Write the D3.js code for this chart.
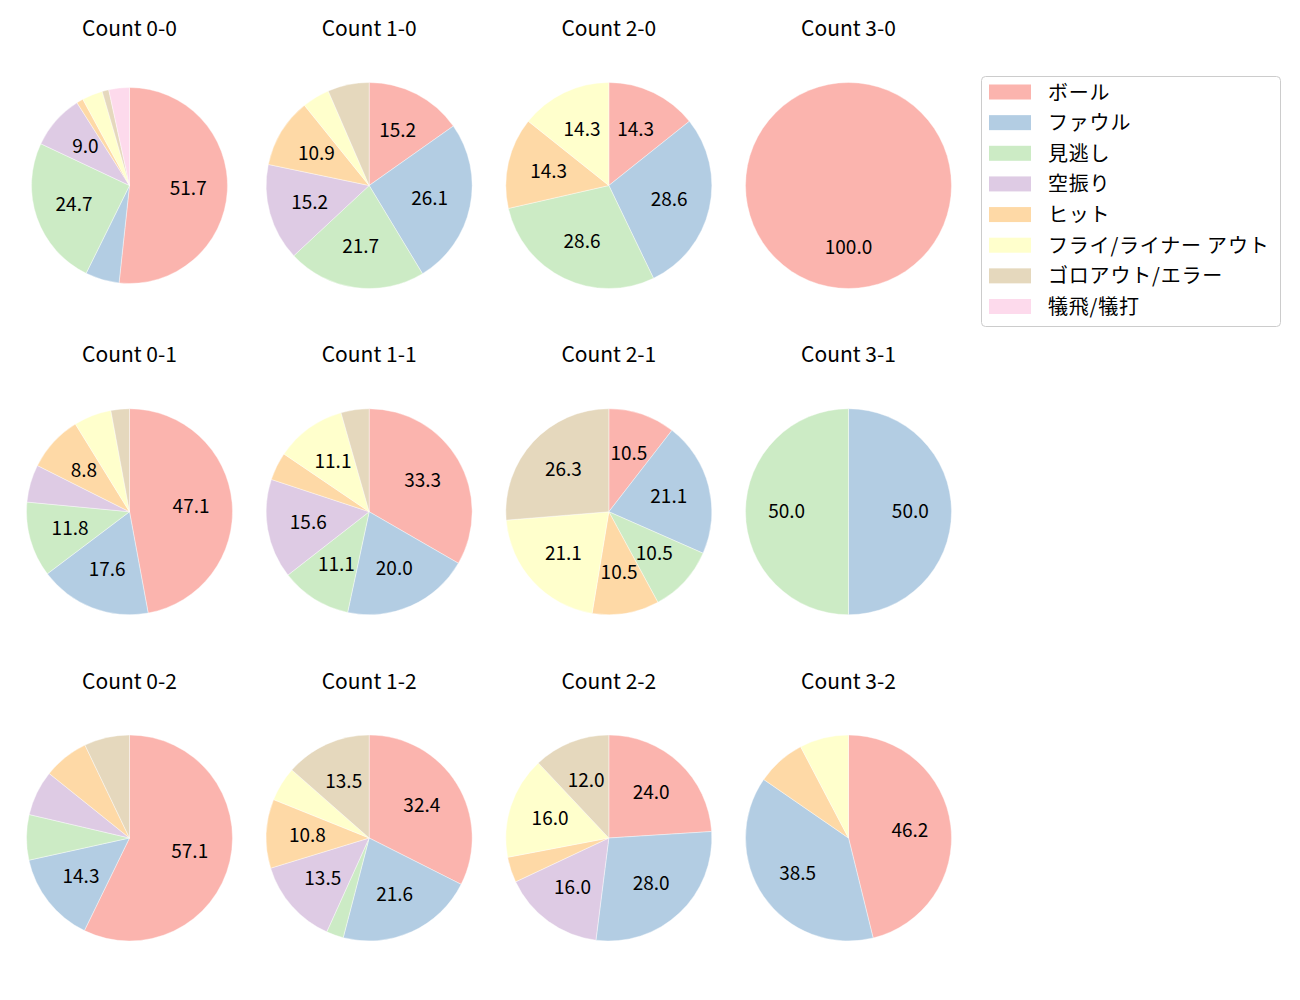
<!DOCTYPE html>
<html>
<head>
<meta charset="utf-8">
<script src="https://cdn.jsdelivr.net/npm/d3@7"></script>
<style>
  html, body { margin: 0; padding: 0; background: #ffffff; }
  svg { display: block; font-family: "Noto Sans CJK JP", "Noto Sans", sans-serif; }
</style>
</head>
<body>
<svg id="chart" width="1300" height="1000"></svg>
<script>
// ---- data ----
const categories = ["ボール", "ファウル", "見逃し", "空振り", "ヒット", "フライ/ライナー アウト", "ゴロアウト/エラー", "犠飛/犠打"];
const colors = ["#fbb4ae", "#b3cde3", "#ccebc5", "#decbe4", "#fed9a6", "#ffffcc", "#e5d8bd", "#fddaec"];
const countLabels = ["0-0", "1-0", "2-0", "3-0", "0-1", "1-1", "2-1", "3-1", "0-2", "1-2", "2-2", "3-2"];
// percentage of each category, in category order
const count00 = [51.7, 5.6, 24.7, 9.0, 1.1, 3.4, 1.1, 3.4];
const count10 = [15.2, 26.1, 21.7, 15.2, 10.9, 4.3, 6.5, 0];
const count20 = [14.3, 28.6, 28.6, 0, 14.3, 14.3, 0, 0];
const count30 = [100.0, 0, 0, 0, 0, 0, 0, 0];
const count01 = [47.1, 17.6, 11.8, 5.9, 8.8, 5.9, 2.9, 0];
const count11 = [33.3, 20.0, 11.1, 15.6, 4.4, 11.1, 4.4, 0];
const count21 = [10.5, 21.1, 10.5, 0, 10.5, 21.1, 26.3, 0];
const count31 = [0, 50.0, 50.0, 0, 0, 0, 0, 0];
const count02 = [57.1, 14.3, 7.1, 7.1, 7.1, 0, 7.1, 0];
const count12 = [32.4, 21.6, 2.7, 13.5, 10.8, 5.4, 13.5, 0];
const count22 = [24.0, 28.0, 0, 16.0, 4.0, 16.0, 12.0, 0];
const count32 = [46.2, 38.5, 0, 0, 7.7, 7.7, 0, 0];
const countValues = [count00, count10, count20, count30, count01, count11, count21, count31, count02, count12, count22, count32];

// ---- layout ----
const svg = d3.select("#chart");
const colX = d3.scalePoint().domain([0, 1, 2, 3]).range([129.5, 848.5]);
const rowY = d3.scalePoint().domain([0, 1, 2]).range([185.5, 838]);
const color = d3.scaleOrdinal().domain(categories).range(colors);
const baseRadius = 103;
const radiusOverride = { "0-0": 98 };
const labelThreshold = 8;

const pie = d3.pie().sort(null).value(d => d.value).startAngle(0).endAngle(2 * Math.PI);

countLabels.forEach((lab, i) => {
  const col = i % 4, row = Math.floor(i / 4);
  const cx = colX(col), cy = rowY(row);
  const r = radiusOverride[lab] || baseRadius;
  const g = svg.append("g").attr("transform", `translate(${cx},${cy})`);
  const data = categories.map((c, k) => ({ cat: c, value: countValues[i][k] }));
  const arcs = pie(data).filter(d => d.data.value > 0);
  const arc = d3.arc().innerRadius(0).outerRadius(r);
  g.selectAll("path").data(arcs).join("path")
    .attr("d", arc)
    .attr("fill", d => color(d.data.cat))
    .attr("stroke", "#ffffff")
    .attr("stroke-width", 0.4);
  g.selectAll("text").data(arcs.filter(d => d.data.value >= labelThreshold)).join("text")
    .attr("transform", d => {
      const a = (d.startAngle + d.endAngle) / 2;
      return `translate(${Math.sin(a) * r * 0.6},${-Math.cos(a) * r * 0.6 - 2})`;
    })
    .attr("text-anchor", "middle")
    .attr("dominant-baseline", "central")
    .attr("font-size", 19)
    .attr("fill", "#000")
    .text(d => d3.format(".1f")(d.data.value));
  svg.append("text")
    .attr("x", cx).attr("y", cy - 158.5)
    .attr("text-anchor", "middle")
    .attr("dominant-baseline", "central")
    .attr("font-size", 21)
    .attr("fill", "#000")
    .text("Count " + lab);
});

// ---- legend ----
const legend = svg.append("g");
legend.append("rect")
  .attr("x", 981.5).attr("y", 76.5).attr("width", 299).attr("height", 250)
  .attr("rx", 4).attr("ry", 4)
  .attr("fill", "#ffffff").attr("fill-opacity", 0.8)
  .attr("stroke", "#cccccc").attr("stroke-width", 1);
const legY = d3.scalePoint().domain(categories).range([92, 306.5]);
categories.forEach(c => {
  legend.append("rect")
    .attr("x", 989).attr("y", legY(c) - 7.5).attr("width", 42).attr("height", 15)
    .attr("fill", color(c));
  legend.append("text")
    .attr("x", 1048).attr("y", legY(c) - 1)
    .attr("dominant-baseline", "central")
    .attr("font-size", 20)
    .attr("letter-spacing", 0.8)
    .attr("fill", "#000")
    .text(c);
});
</script>
</body>
</html>
